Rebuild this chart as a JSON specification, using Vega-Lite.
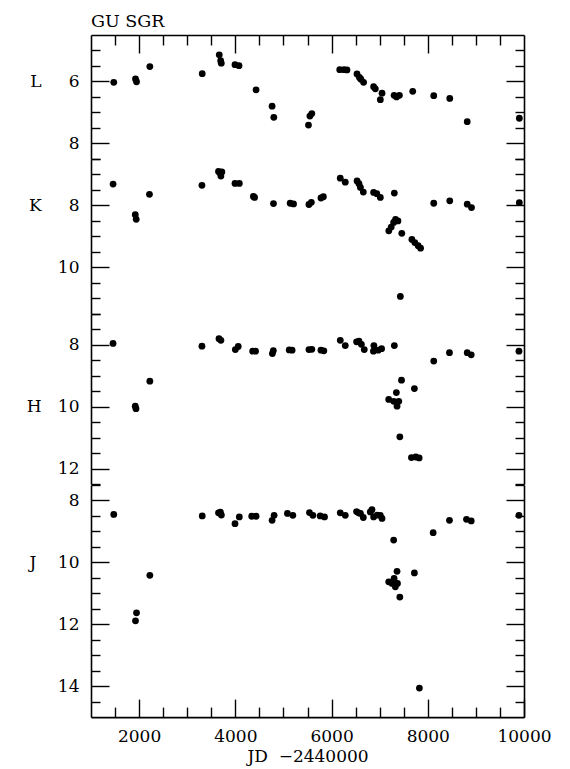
{
  "$schema": "https://vega.github.io/schema/vega-lite/v6.json",
  "background": "white",
  "padding": {"left": 26, "top": 12, "right": 5, "bottom": 5},
  "title": {"text": "GU SGR", "anchor": "start", "frame": "group", "offset": -10, "baseline": "alphabetic", "font": "DejaVu Serif", "fontSize": 17.5, "fontWeight": "normal", "color": "black"},
  "data": {"values": [
    {"b":"L","jd":1473,"m":6.03},{"b":"L","jd":1925,"m":5.92},{"b":"L","jd":1946,"m":6.01},{"b":"L","jd":2223,"m":5.52},{"b":"L","jd":3312,"m":5.75},{"b":"L","jd":3666,"m":5.14},{"b":"L","jd":3695,"m":5.33},{"b":"L","jd":3708,"m":5.41},{"b":"L","jd":3993,"m":5.46},{"b":"L","jd":4077,"m":5.49},{"b":"L","jd":4431,"m":6.27},{"b":"L","jd":4764,"m":6.8},{"b":"L","jd":4800,"m":7.16},{"b":"L","jd":5520,"m":7.41},{"b":"L","jd":5550,"m":7.12},{"b":"L","jd":5590,"m":7.04},{"b":"L","jd":6170,"m":5.62},{"b":"L","jd":6260,"m":5.62},{"b":"L","jd":6320,"m":5.63},{"b":"L","jd":6529,"m":5.76},{"b":"L","jd":6580,"m":5.87},{"b":"L","jd":6610,"m":5.93},{"b":"L","jd":6666,"m":6.03},{"b":"L","jd":6874,"m":6.17},{"b":"L","jd":6910,"m":6.24},{"b":"L","jd":7049,"m":6.38},{"b":"L","jd":7014,"m":6.59},{"b":"L","jd":7300,"m":6.45},{"b":"L","jd":7350,"m":6.5},{"b":"L","jd":7410,"m":6.45},{"b":"L","jd":7687,"m":6.32},{"b":"L","jd":8124,"m":6.46},{"b":"L","jd":8457,"m":6.55},{"b":"L","jd":8820,"m":7.3},{"b":"L","jd":9903,"m":7.19},
    {"b":"K","jd":1459,"m":7.31},{"b":"K","jd":1920,"m":8.3},{"b":"K","jd":1940,"m":8.45},{"b":"K","jd":2215,"m":7.64},{"b":"K","jd":3306,"m":7.35},{"b":"K","jd":3650,"m":6.9},{"b":"K","jd":3680,"m":6.95},{"b":"K","jd":3700,"m":7.05},{"b":"K","jd":3720,"m":6.92},{"b":"K","jd":3993,"m":7.29},{"b":"K","jd":4083,"m":7.29},{"b":"K","jd":4375,"m":7.71},{"b":"K","jd":4400,"m":7.74},{"b":"K","jd":4793,"m":7.94},{"b":"K","jd":5140,"m":7.93},{"b":"K","jd":5210,"m":7.95},{"b":"K","jd":5530,"m":7.97},{"b":"K","jd":5580,"m":7.9},{"b":"K","jd":5780,"m":7.76},{"b":"K","jd":5830,"m":7.72},{"b":"K","jd":6181,"m":7.12},{"b":"K","jd":6285,"m":7.25},{"b":"K","jd":6530,"m":7.21},{"b":"K","jd":6570,"m":7.3},{"b":"K","jd":6600,"m":7.42},{"b":"K","jd":6660,"m":7.57},{"b":"K","jd":6874,"m":7.58},{"b":"K","jd":6940,"m":7.62},{"b":"K","jd":7014,"m":7.74},{"b":"K","jd":7305,"m":7.6},{"b":"K","jd":7190,"m":8.82},{"b":"K","jd":7240,"m":8.7},{"b":"K","jd":7290,"m":8.55},{"b":"K","jd":7330,"m":8.45},{"b":"K","jd":7380,"m":8.5},{"b":"K","jd":7460,"m":8.9},{"b":"K","jd":7670,"m":9.1},{"b":"K","jd":7730,"m":9.2},{"b":"K","jd":7800,"m":9.3},{"b":"K","jd":7850,"m":9.38},{"b":"K","jd":7430,"m":10.94},{"b":"K","jd":8124,"m":7.93},{"b":"K","jd":8457,"m":7.85},{"b":"K","jd":8820,"m":7.96},{"b":"K","jd":8909,"m":8.07},{"b":"K","jd":9903,"m":7.91},
    {"b":"H","jd":1458,"m":7.95},{"b":"H","jd":1920,"m":9.98},{"b":"H","jd":1935,"m":10.06},{"b":"H","jd":2223,"m":9.17},{"b":"H","jd":3306,"m":8.04},{"b":"H","jd":3660,"m":7.8},{"b":"H","jd":3700,"m":7.85},{"b":"H","jd":4000,"m":8.15},{"b":"H","jd":4060,"m":8.05},{"b":"H","jd":4360,"m":8.2},{"b":"H","jd":4420,"m":8.2},{"b":"H","jd":4770,"m":8.28},{"b":"H","jd":4790,"m":8.18},{"b":"H","jd":5120,"m":8.16},{"b":"H","jd":5180,"m":8.17},{"b":"H","jd":5530,"m":8.15},{"b":"H","jd":5590,"m":8.14},{"b":"H","jd":5780,"m":8.17},{"b":"H","jd":5840,"m":8.19},{"b":"H","jd":6181,"m":7.85},{"b":"H","jd":6285,"m":8.02},{"b":"H","jd":6520,"m":7.9},{"b":"H","jd":6570,"m":7.88},{"b":"H","jd":6620,"m":7.98},{"b":"H","jd":6680,"m":8.15},{"b":"H","jd":6870,"m":8.2},{"b":"H","jd":6880,"m":8.02},{"b":"H","jd":6970,"m":8.17},{"b":"H","jd":7040,"m":8.12},{"b":"H","jd":7305,"m":8.02},{"b":"H","jd":7188,"m":9.76},{"b":"H","jd":7291,"m":9.82},{"b":"H","jd":7347,"m":9.54},{"b":"H","jd":7361,"m":9.98},{"b":"H","jd":7397,"m":9.82},{"b":"H","jd":7454,"m":9.14},{"b":"H","jd":7722,"m":9.41},{"b":"H","jd":7419,"m":10.97},{"b":"H","jd":7660,"m":11.64},{"b":"H","jd":7750,"m":11.62},{"b":"H","jd":7820,"m":11.65},{"b":"H","jd":8124,"m":8.52},{"b":"H","jd":8451,"m":8.25},{"b":"H","jd":8820,"m":8.25},{"b":"H","jd":8903,"m":8.32},{"b":"H","jd":9895,"m":8.2},
    {"b":"J","jd":1473,"m":8.45},{"b":"J","jd":1925,"m":11.89},{"b":"J","jd":1946,"m":11.63},{"b":"J","jd":2223,"m":10.42},{"b":"J","jd":3312,"m":8.5},{"b":"J","jd":3650,"m":8.4},{"b":"J","jd":3690,"m":8.38},{"b":"J","jd":3710,"m":8.47},{"b":"J","jd":3993,"m":8.75},{"b":"J","jd":4083,"m":8.53},{"b":"J","jd":4341,"m":8.51},{"b":"J","jd":4431,"m":8.51},{"b":"J","jd":4764,"m":8.64},{"b":"J","jd":4806,"m":8.48},{"b":"J","jd":5083,"m":8.42},{"b":"J","jd":5195,"m":8.48},{"b":"J","jd":5541,"m":8.39},{"b":"J","jd":5612,"m":8.48},{"b":"J","jd":5764,"m":8.5},{"b":"J","jd":5854,"m":8.53},{"b":"J","jd":6181,"m":8.4},{"b":"J","jd":6285,"m":8.48},{"b":"J","jd":6520,"m":8.36},{"b":"J","jd":6560,"m":8.4},{"b":"J","jd":6600,"m":8.42},{"b":"J","jd":6660,"m":8.55},{"b":"J","jd":6805,"m":8.37},{"b":"J","jd":6840,"m":8.3},{"b":"J","jd":6874,"m":8.53},{"b":"J","jd":6950,"m":8.47},{"b":"J","jd":7014,"m":8.48},{"b":"J","jd":7049,"m":8.58},{"b":"J","jd":7291,"m":9.28},{"b":"J","jd":7361,"m":10.29},{"b":"J","jd":7188,"m":10.63},{"b":"J","jd":7257,"m":10.68},{"b":"J","jd":7300,"m":10.52},{"b":"J","jd":7326,"m":10.79},{"b":"J","jd":7370,"m":10.68},{"b":"J","jd":7419,"m":11.12},{"b":"J","jd":7722,"m":10.34},{"b":"J","jd":7826,"m":14.06},{"b":"J","jd":8112,"m":9.04},{"b":"J","jd":8451,"m":8.64},{"b":"J","jd":8805,"m":8.61},{"b":"J","jd":8903,"m":8.66},{"b":"J","jd":9895,"m":8.48}
  ]},
  "bounds": "flush",
  "spacing": 0,
  "vconcat": [
    {
      "width": 433, "height": 123.8,
      "transform": [{"filter": "datum.b == 'L'"}],
      "layer": [
        {"mark": {"type": "point", "filled": true, "size": 46, "color": "black", "opacity": 1},
         "encoding": {
           "x": {"field": "jd", "type": "quantitative", "scale": {"domain": [1000, 10000], "nice": false, "zero": false}, "axis": {"orient": "top", "values": [2000, 4000, 6000, 8000], "tickSize": -18, "labels": false, "domain": true, "title": null}},
           "y": {"field": "m", "type": "quantitative", "scale": {"domain": [4.5, 8.5], "reverse": true, "nice": false, "zero": false}, "axis": {"orient": "left", "values": [6, 8], "tickSize": -18, "labelPadding": 30, "domain": true, "title": null, "labelExpr": "datum.value == 6 ? 'L \u2007\u20076' : datum.label"}}}},
        {"mark": {"type": "point", "opacity": 0},
         "encoding": {
           "x": {"field": "jd", "type": "quantitative", "scale": {"domain": [1000, 10000], "nice": false, "zero": false}, "axis": {"orient": "top", "values": [1500, 2500, 3000, 3500, 4500, 5000, 5500, 6500, 7000, 7500, 8500, 9000, 9500], "tickSize": -10, "labels": false, "domain": false, "title": null}},
           "y": {"field": "m", "type": "quantitative", "scale": {"domain": [4.5, 8.5], "reverse": true, "nice": false, "zero": false}, "axis": {"orient": "left", "values": [5, 5.5, 6.5, 7, 7.5, 8.5], "tickSize": -9, "labels": false, "domain": false, "title": null}}}},
        {"mark": {"type": "point", "opacity": 0},
         "encoding": {
           "x": {"field": "jd", "type": "quantitative", "scale": {"domain": [1000, 10000], "nice": false, "zero": false}, "axis": null},
           "y": {"field": "m", "type": "quantitative", "scale": {"domain": [4.5, 8.5], "reverse": true, "nice": false, "zero": false}, "axis": {"orient": "right", "values": [6, 8], "tickSize": -18, "labels": false, "domain": true, "title": null}}}},
        {"mark": {"type": "point", "opacity": 0},
         "encoding": {
           "x": {"field": "jd", "type": "quantitative", "scale": {"domain": [1000, 10000], "nice": false, "zero": false}, "axis": null},
           "y": {"field": "m", "type": "quantitative", "scale": {"domain": [4.5, 8.5], "reverse": true, "nice": false, "zero": false}, "axis": {"orient": "right", "values": [5, 5.5, 6.5, 7, 7.5, 8.5], "tickSize": -9, "labels": false, "domain": false, "title": null}}}}
      ],
      "resolve": {"axis": {"x": "independent", "y": "independent"}}
    },
    {
      "width": 433, "height": 154.75,
      "transform": [{"filter": "datum.b == 'K'"}],
      "layer": [
        {"mark": {"type": "point", "filled": true, "size": 46, "color": "black", "opacity": 1},
         "encoding": {
           "x": {"field": "jd", "type": "quantitative", "scale": {"domain": [1000, 10000], "nice": false, "zero": false}, "axis": null},
           "y": {"field": "m", "type": "quantitative", "scale": {"domain": [6.5, 11.5], "reverse": true, "nice": false, "zero": false}, "axis": {"orient": "left", "values": [8, 10], "tickSize": -18, "labelPadding": 30, "domain": true, "title": null, "labelExpr": "datum.value == 8 ? 'K \u2007\u20078' : datum.label"}}}},
        {"mark": {"type": "point", "opacity": 0},
         "encoding": {
           "x": {"field": "jd", "type": "quantitative", "scale": {"domain": [1000, 10000], "nice": false, "zero": false}, "axis": null},
           "y": {"field": "m", "type": "quantitative", "scale": {"domain": [6.5, 11.5], "reverse": true, "nice": false, "zero": false}, "axis": {"orient": "left", "values": [6.5, 7, 7.5, 8.5, 9, 9.5, 10.5, 11, 11.5], "tickSize": -9, "labels": false, "domain": false, "title": null}}}},
        {"mark": {"type": "point", "opacity": 0},
         "encoding": {
           "x": {"field": "jd", "type": "quantitative", "scale": {"domain": [1000, 10000], "nice": false, "zero": false}, "axis": null},
           "y": {"field": "m", "type": "quantitative", "scale": {"domain": [6.5, 11.5], "reverse": true, "nice": false, "zero": false}, "axis": {"orient": "right", "values": [8, 10], "tickSize": -18, "labels": false, "domain": true, "title": null}}}},
        {"mark": {"type": "point", "opacity": 0},
         "encoding": {
           "x": {"field": "jd", "type": "quantitative", "scale": {"domain": [1000, 10000], "nice": false, "zero": false}, "axis": null},
           "y": {"field": "m", "type": "quantitative", "scale": {"domain": [6.5, 11.5], "reverse": true, "nice": false, "zero": false}, "axis": {"orient": "right", "values": [6.5, 7, 7.5, 8.5, 9, 9.5, 10.5, 11, 11.5], "tickSize": -9, "labels": false, "domain": false, "title": null}}}}
      ],
      "resolve": {"axis": {"x": "independent", "y": "independent"}}
    },
    {
      "width": 433, "height": 170.225,
      "transform": [{"filter": "datum.b == 'H'"}],
      "layer": [
        {"mark": {"type": "point", "filled": true, "size": 46, "color": "black", "opacity": 1},
         "encoding": {
           "x": {"field": "jd", "type": "quantitative", "scale": {"domain": [1000, 10000], "nice": false, "zero": false}, "axis": null},
           "y": {"field": "m", "type": "quantitative", "scale": {"domain": [7, 12.5], "reverse": true, "nice": false, "zero": false}, "axis": {"orient": "left", "values": [8, 10, 12], "tickSize": -18, "labelPadding": 30, "domain": true, "title": null, "labelExpr": "datum.value == 10 ? 'H \u200710' : datum.label"}}}},
        {"mark": {"type": "point", "opacity": 0},
         "encoding": {
           "x": {"field": "jd", "type": "quantitative", "scale": {"domain": [1000, 10000], "nice": false, "zero": false}, "axis": null},
           "y": {"field": "m", "type": "quantitative", "scale": {"domain": [7, 12.5], "reverse": true, "nice": false, "zero": false}, "axis": {"orient": "left", "values": [7, 7.5, 8.5, 9, 9.5, 10.5, 11, 11.5, 12.5], "tickSize": -9, "labels": false, "domain": false, "title": null}}}},
        {"mark": {"type": "point", "opacity": 0},
         "encoding": {
           "x": {"field": "jd", "type": "quantitative", "scale": {"domain": [1000, 10000], "nice": false, "zero": false}, "axis": null},
           "y": {"field": "m", "type": "quantitative", "scale": {"domain": [7, 12.5], "reverse": true, "nice": false, "zero": false}, "axis": {"orient": "right", "values": [8, 10, 12], "tickSize": -18, "labels": false, "domain": true, "title": null}}}},
        {"mark": {"type": "point", "opacity": 0},
         "encoding": {
           "x": {"field": "jd", "type": "quantitative", "scale": {"domain": [1000, 10000], "nice": false, "zero": false}, "axis": null},
           "y": {"field": "m", "type": "quantitative", "scale": {"domain": [7, 12.5], "reverse": true, "nice": false, "zero": false}, "axis": {"orient": "right", "values": [7, 7.5, 8.5, 9, 9.5, 10.5, 11, 11.5, 12.5], "tickSize": -9, "labels": false, "domain": false, "title": null}}}}
      ],
      "resolve": {"axis": {"x": "independent", "y": "independent"}}
    },
    {
      "width": 433, "height": 232.125,
      "transform": [{"filter": "datum.b == 'J'"}],
      "layer": [
        {"mark": {"type": "point", "filled": true, "size": 46, "color": "black", "opacity": 1},
         "encoding": {
           "x": {"field": "jd", "type": "quantitative", "scale": {"domain": [1000, 10000], "nice": false, "zero": false}, "axis": {"orient": "bottom", "values": [2000, 4000, 6000, 8000, 10000], "format": "d", "tickSize": -18, "labelPadding": 29, "domain": true, "title": "JD\u2007\u22122440000", "titlePadding": 4}},
           "y": {"field": "m", "type": "quantitative", "scale": {"domain": [7.5, 15], "reverse": true, "nice": false, "zero": false}, "axis": {"orient": "left", "values": [8, 10, 12, 14], "tickSize": -18, "labelPadding": 30, "domain": true, "title": null, "labelExpr": "datum.value == 10 ? 'J\u2007\u200710' : datum.label"}}}},
        {"mark": {"type": "point", "opacity": 0},
         "encoding": {
           "x": {"field": "jd", "type": "quantitative", "scale": {"domain": [1000, 10000], "nice": false, "zero": false}, "axis": {"orient": "bottom", "values": [1500, 2500, 3000, 3500, 4500, 5000, 5500, 6500, 7000, 7500, 8500, 9000, 9500], "tickSize": -10, "labels": false, "domain": false, "title": null}},
           "y": {"field": "m", "type": "quantitative", "scale": {"domain": [7.5, 15], "reverse": true, "nice": false, "zero": false}, "axis": {"orient": "left", "values": [7.5, 8.5, 9, 9.5, 10.5, 11, 11.5, 12.5, 13, 13.5, 14.5], "tickSize": -9, "labels": false, "domain": false, "title": null}}}},
        {"mark": {"type": "point", "opacity": 0},
         "encoding": {
           "x": {"field": "jd", "type": "quantitative", "scale": {"domain": [1000, 10000], "nice": false, "zero": false}, "axis": null},
           "y": {"field": "m", "type": "quantitative", "scale": {"domain": [7.5, 15], "reverse": true, "nice": false, "zero": false}, "axis": {"orient": "right", "values": [8, 10, 12, 14], "tickSize": -18, "labels": false, "domain": true, "title": null}}}},
        {"mark": {"type": "point", "opacity": 0},
         "encoding": {
           "x": {"field": "jd", "type": "quantitative", "scale": {"domain": [1000, 10000], "nice": false, "zero": false}, "axis": null},
           "y": {"field": "m", "type": "quantitative", "scale": {"domain": [7.5, 15], "reverse": true, "nice": false, "zero": false}, "axis": {"orient": "right", "values": [7.5, 8.5, 9, 9.5, 10.5, 11, 11.5, 12.5, 13, 13.5, 14.5], "tickSize": -9, "labels": false, "domain": false, "title": null}}}}
      ],
      "resolve": {"axis": {"x": "independent", "y": "independent"}}
    }
  ],
  "config": {
    "view": {"stroke": null},
    "axis": {"grid": false, "tickColor": "black", "domainColor": "black", "domainWidth": 1.6, "tickWidth": 1.4, "labelFont": "DejaVu Serif", "labelFontSize": 17, "labelColor": "black", "titleFont": "DejaVu Serif", "titleFontSize": 17, "titleFontWeight": "normal", "titleColor": "black", "labelFlush": false, "labelOverlap": false}
  }
}
